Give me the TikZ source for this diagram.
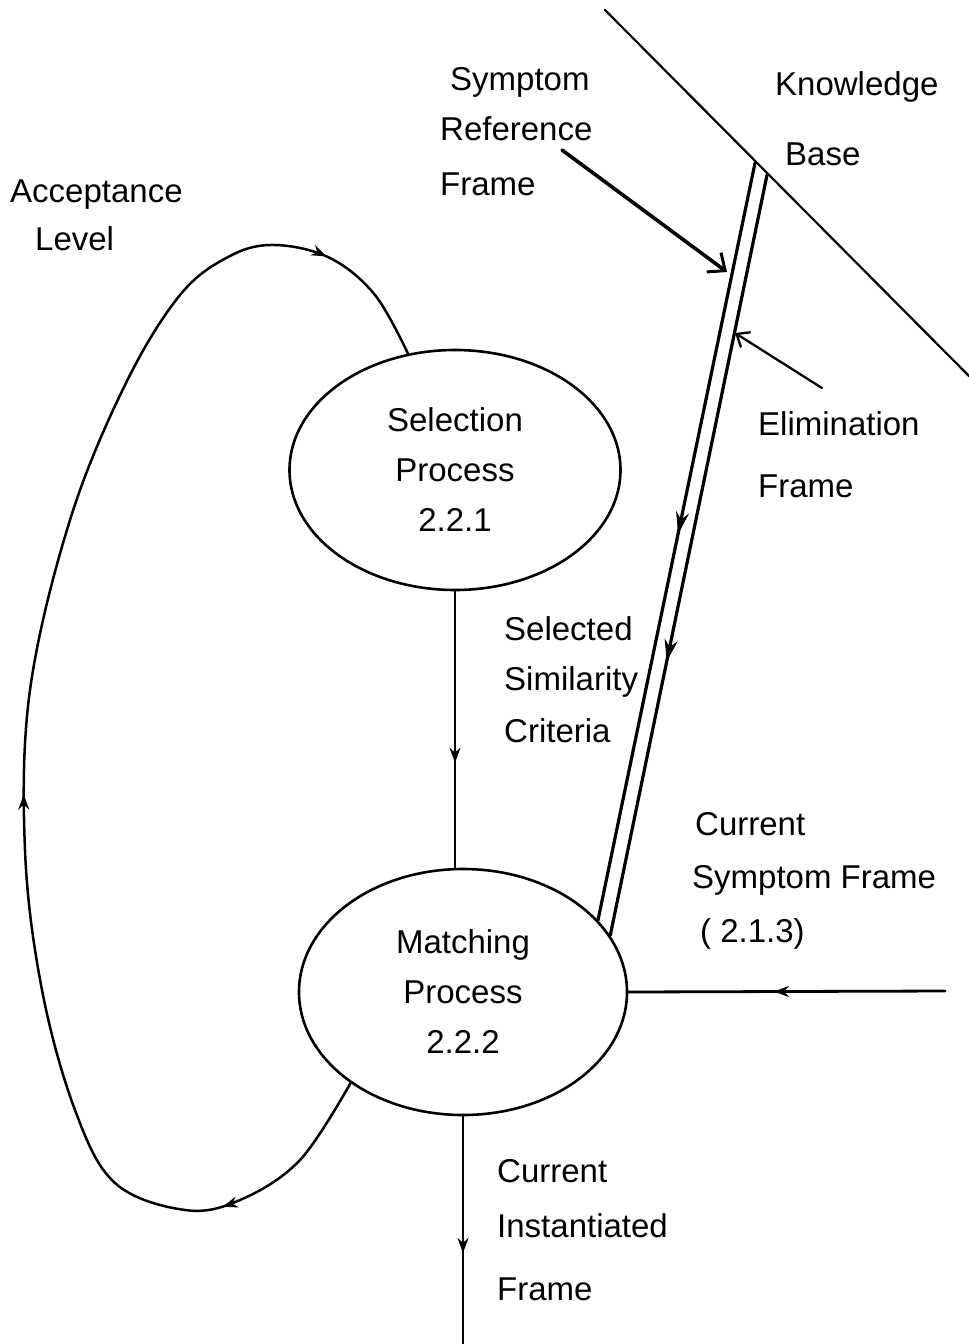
\documentclass[tikz,border=0pt]{standalone}
\usepackage{fontspec}
\setmainfont{Liberation Sans}
\usetikzlibrary{arrows.meta,decorations.markings,shapes.geometric}

\tikzset{
  smallhead/.tip={Stealth[length=15pt,width=11pt]},
  bighead/.tip={Stealth[length=22pt,width=13pt]}
}

\begin{document}
\begin{tikzpicture}[x=1pt,y=-1pt,
  line join=round, line cap=round,
  lbl/.style={inner sep=0pt, anchor=base west, align=left,
              font=\fontsize{33}{50}\selectfont},
  proc/.style={ellipse, draw, line width=2.6pt, inner sep=0pt,
               minimum width=331pt, minimum height=240pt, align=center,
               font=\fontsize{33}{50}\selectfont},
  flow/.style={line width=2.3pt},
  heavy/.style={line width=3.2pt},
  midarrow/.style 2 args={postaction={decorate,decoration={markings,
      mark=at position #1 with {\arrow{#2}}}}}
]
\useasboundingbox (0,0) rectangle (969,1344);

% process bubbles
\node[proc] (sel) at (455,470) {Selection\\Process\\2.2.1};
\node[proc, minimum height=246pt, minimum width=328pt] (match) at (463,992)
  {Matching\\Process\\2.2.2};

% knowledge base boundary
\coordinate (kbtop) at (605,10);
\coordinate (kbbot) at (969,376);
\draw[line width=2.2pt] (kbtop) -- (kbbot);

% double channel from the knowledge base into the matching process
\coordinate (kbL) at (755,163);
\coordinate (kbR) at (767,175);
\draw[heavy, midarrow={0.49}{bighead}] (kbL) -- (match.28);
\draw[heavy, midarrow={0.64}{bighead}] (kbR) -- (match.21);

% symptom reference frame entering the channel
\coordinate (srfstart) at (562,150);
\coordinate (srfend) at (727,272);
\draw[line width=3.6pt, -{Straight Barb[length=14pt,width=24pt,line width=3pt]}]
  (srfstart) -- (srfend);

% elimination frame
\coordinate (elimstart) at (822,388);
\coordinate (elimend) at (735,333);
\draw[flow, -{Straight Barb[length=11pt,width=18pt]}] (elimstart) -- (elimend);

% selection -> matching
\draw[flow, midarrow={0.62}{smallhead}] (sel.south) -- (sel.south |- match.north);

% current symptom frame input
\coordinate (csfin) at (945,991);
\draw[line width=2.8pt, midarrow={0.54}{smallhead}] (csfin) -- (match.east);

% output
\coordinate (out) at (463,1344);
\draw[flow, midarrow={0.6}{smallhead}] (match.south) -- (out);

% acceptance level feedback loop
\draw[line width=2.5pt,
  postaction={decorate,decoration={markings,
    mark=at position 0.12 with {\arrow{smallhead}},
    mark=at position 0.46 with {\arrow{smallhead}},
    mark=at position 0.915 with {\arrow{smallhead}}}}]
  plot[smooth, tension=0.6] coordinates {
    (match.219) (300,1160) (240,1200) (185,1210) (115,1183)
    (75,1110) (42,990) (25,850) (30,690) (70,520) (125,385)
    (180,295) (230,256) (275,245) (330,258) (375,295) (sel.112)};

% labels (each placed at the baseline of its last line)
\node[lbl] (acc) at (10,250) {Acceptance\\[-2pt]\hspace*{25pt}Level};
\node[lbl] (srf) at (440,195) {\hspace*{10pt}Symptom\\Reference\\[5pt]Frame};
\node[lbl] (kb) at (775,165) {Knowledge\\[20pt]\hspace*{10pt}Base};
\node[lbl] (elim) at (758,497) {Elimination\\[12pt]Frame};
\node[lbl] (ssc) at (504,742) {Selected\\Similarity\\[2pt]Criteria};
\node[lbl] (csf) at (692,942) {\hspace*{3pt}Current\\[3pt]Symptom Frame\\[4pt]\hspace*{8pt}( 2.1.3)};
\node[lbl] (cif) at (497,1300) {Current\\[5pt]Instantiated\\[13pt]Frame};
\end{tikzpicture}
\end{document}
